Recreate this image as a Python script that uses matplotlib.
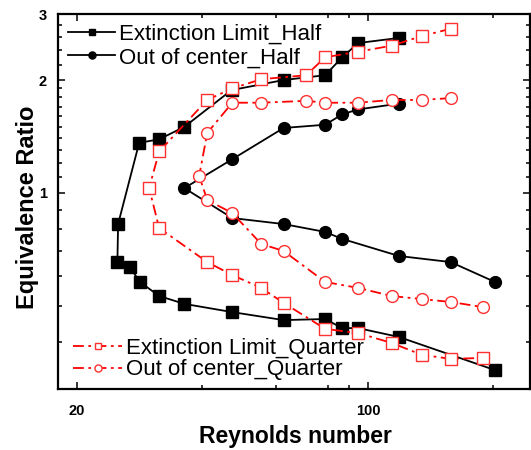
import matplotlib
matplotlib.use('Agg')
import matplotlib.pyplot as plt
from matplotlib.ticker import FixedLocator, FixedFormatter, NullFormatter

plt.rcParams['font.family'] = ['Liberation Sans', 'DejaVu Sans']

# Extinction limit, half (black filled squares)
ext_half_re = [118.6, 94.7, 86.7, 78.9, 62.7, 47.0, 36.2, 31.5, 28.2, 25.1, 25.0,
               26.8, 28.3, 31.5, 36.2, 47.2, 62.7, 78.9, 86.7, 94.7, 118.6, 201.7]
ext_half_phi = [2.59, 2.51, 2.30, 2.06, 2.00, 1.88, 1.50, 1.39, 1.36, 0.826, 0.654,
                0.634, 0.579, 0.531, 0.506, 0.481, 0.458, 0.461, 0.436, 0.436, 0.413, 0.337]

# Out of center, half (black filled circles)
occ_half_re = [118.6, 94.7, 86.7, 78.9, 62.7, 47.2, 36.2, 47.2, 62.7, 78.9, 86.7,
               118.6, 158.0, 201.7]
occ_half_phi = [1.73, 1.67, 1.62, 1.52, 1.49, 1.23, 1.03, 0.857, 0.826, 0.787, 0.754,
                0.679, 0.654, 0.579]

# Extinction limit, quarter (red open squares)
ext_quarter_re = [158.0, 134.7, 114.0, 94.7, 78.9, 71.0, 55.4, 47.2, 41.1, 31.5, 29.8,
                  31.5, 41.1, 47.2, 55.4, 62.7, 78.9, 94.7, 114.0, 134.7, 158.0, 189.0]
ext_quarter_phi = [2.74, 2.62, 2.47, 2.38, 2.30, 2.06, 2.01, 1.90, 1.77, 1.29, 1.03,
                   0.806, 0.654, 0.604, 0.558, 0.509, 0.434, 0.423, 0.398, 0.370, 0.361, 0.363]

# Out of center, quarter (red open circles)
occ_quarter_re = [158.0, 134.7, 114.0, 94.7, 78.9, 71.0, 55.4, 47.2, 41.1, 39.3,
                  41.1, 47.2, 55.4, 62.7, 78.9, 94.7, 114.0, 134.7, 158.0, 189.0]
occ_quarter_phi = [1.79, 1.77, 1.77, 1.74, 1.74, 1.76, 1.74, 1.74, 1.445, 1.11,
                   0.957, 0.884, 0.731, 0.700, 0.579, 0.558, 0.531, 0.521, 0.512, 0.496]

x_ticks = [20, 100]
x_minor = [40, 60, 80, 90, 200]
y_ticks = [1, 2, 3]
y_minor = [0.3, 0.4, 0.5, 0.6, 0.7, 0.8, 0.9, 1.1, 1.2, 1.3, 1.4, 1.5, 1.6, 1.7,
           1.8, 1.9, 2.2, 2.4, 2.6, 2.8]

fig = plt.figure(figsize=(5.31, 4.5), dpi=100)
ax = fig.add_axes([58 / 531, 61 / 450, 472 / 531, 375 / 450])

dashdot = (6, 2.5, 1.5, 2.5)

l1, = ax.plot(ext_half_re, ext_half_phi, color='black', lw=1.3, marker='s',
              ms=8, mfc='black', mec='black', label='Extinction Limit_Half')
l2, = ax.plot(occ_half_re, occ_half_phi, color='black', lw=1.3, marker='o',
              ms=8.5, mfc='black', mec='black', label='Out of center_Half')
l3, = ax.plot(ext_quarter_re, ext_quarter_phi, color='red', lw=1.3, marker='s',
              ms=8, mfc='white', mec='#ff3030', mew=1.0, dashes=dashdot,
              label='Extinction Limit_Quarter')
l4, = ax.plot(occ_quarter_re, occ_quarter_phi, color='red', lw=1.3, marker='o',
              ms=8.5, mfc='white', mec='#ff3030', mew=1.0, dashes=dashdot,
              label='Out of center_Quarter')

ax.set_xscale('log')
ax.set_yscale('log')
ax.set_xlim(18.0, 245)
ax.set_ylim(0.3, 3)

ax.xaxis.set_major_locator(FixedLocator(x_ticks))
ax.xaxis.set_major_formatter(FixedFormatter([str(v) for v in x_ticks]))
ax.xaxis.set_minor_locator(FixedLocator(x_minor))
ax.xaxis.set_minor_formatter(NullFormatter())
ax.yaxis.set_major_locator(FixedLocator(y_ticks))
ax.yaxis.set_major_formatter(FixedFormatter([str(v) for v in y_ticks]))
ax.yaxis.set_minor_locator(FixedLocator(y_minor))
ax.yaxis.set_minor_formatter(NullFormatter())

ax.tick_params(which='both', direction='in', top=True, right=True, width=1.1)
ax.tick_params(which='major', length=5, labelsize=10.5)
ax.tick_params(axis='x', which='major', pad=11)
ax.tick_params(axis='y', which='major', pad=8)
ax.tick_params(which='minor', length=3)
for lab in ax.get_xticklabels() + ax.get_yticklabels():
    lab.set_fontweight('bold')
for sp in ax.spines.values():
    sp.set_linewidth(1.6)

leg1 = ax.legend(handles=[l1, l2], loc='upper left', bbox_to_anchor=(0.022, 0.975),
                 frameon=False, fontsize=16, handlelength=2.1, handletextpad=0.2,
                 labelspacing=0.13, borderpad=0, borderaxespad=0, markerscale=0.6)
ax.add_artist(leg1)
ax.legend(handles=[l3, l4], loc='upper left', bbox_to_anchor=(0.032, 0.137),
          frameon=False, fontsize=16, handlelength=2.2, handletextpad=0.2,
          labelspacing=0.03, borderpad=0, borderaxespad=0, markerscale=0.6)

fig.text(295 / 531, 1 - 437 / 450, 'Reynolds number', ha='center', va='center',
         fontsize=16.5, fontweight='bold')
fig.text(28 / 531, 1 - 207 / 450, 'Equivalence Ratio', ha='center', va='center',
         rotation=90, fontsize=17, fontweight='bold')

fig.savefig('out.png', dpi=100)
